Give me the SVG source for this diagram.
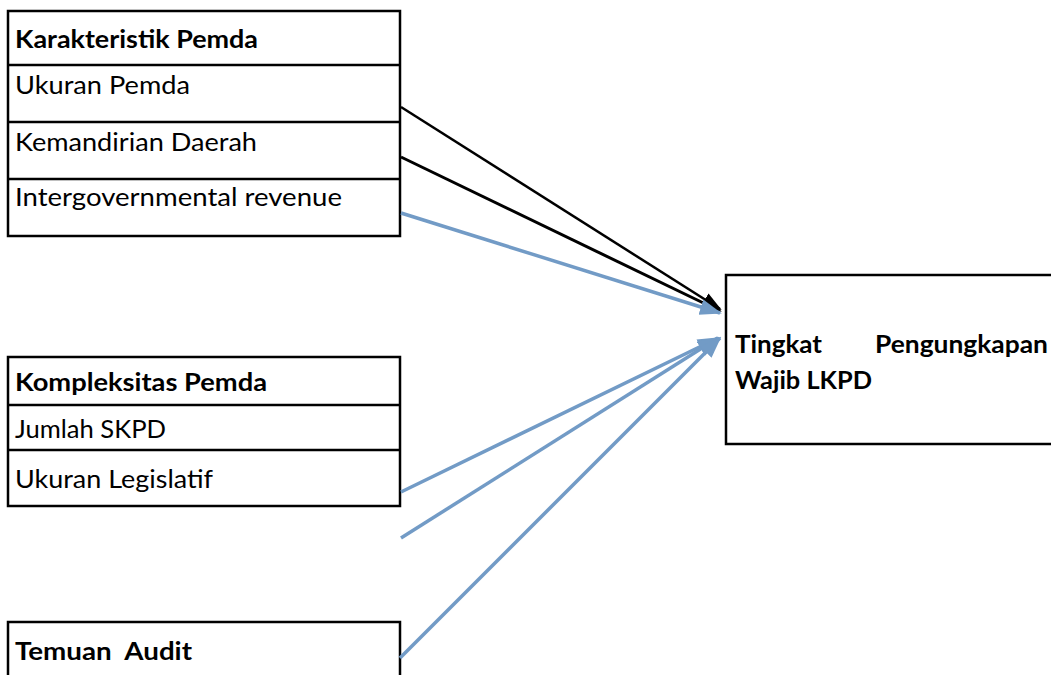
<svg xmlns="http://www.w3.org/2000/svg" width="1051" height="675" viewBox="0 0 1051 675">
<style>
.box{fill:#fff;stroke:#000;stroke-width:2.5}
.sep{stroke:#000;stroke-width:2.5}
.t{font-family:Lato,"Open Sans",sans-serif;font-size:25px;fill:#000}
.b{font-weight:bold}
.blk{stroke:#000;fill:none}
.blu{stroke:#729BC6;stroke-width:3.5;fill:none}
</style>
<defs>
<marker id="ab" markerUnits="userSpaceOnUse" markerWidth="20" markerHeight="16" viewBox="0 0 20 16" refX="18" refY="8" orient="auto">
<path d="M0,1 L20,8 L0,15 z" fill="#000"/>
</marker>
<marker id="au" markerUnits="userSpaceOnUse" markerWidth="22" markerHeight="18" viewBox="0 0 22 18" refX="20" refY="9" orient="auto">
<path d="M0,1 L22,9 L0,17 z" fill="#729BC6"/>
</marker>
</defs>
<g id="karakteristik">
<rect class="box" x="8" y="11" width="392" height="225"/>
<line class="sep" x1="8" y1="65" x2="400" y2="65"/>
<line class="sep" x1="8" y1="122" x2="400" y2="122"/>
<line class="sep" x1="8" y1="179" x2="400" y2="179"/>
<text class="t b" x="15" y="48" textLength="243" lengthAdjust="spacingAndGlyphs">Karakteristik Pemda</text>
<text class="t" x="15" y="94" textLength="175" lengthAdjust="spacingAndGlyphs">Ukuran Pemda</text>
<text class="t" x="15" y="151" textLength="242" lengthAdjust="spacingAndGlyphs">Kemandirian Daerah</text>
<text class="t" x="15" y="206" textLength="327" lengthAdjust="spacingAndGlyphs">Intergovernmental revenue</text>
</g>
<g id="kompleksitas">
<rect class="box" x="8" y="357" width="392" height="149"/>
<line class="sep" x1="8" y1="405" x2="400" y2="405"/>
<line class="sep" x1="8" y1="450" x2="400" y2="450"/>
<text class="t b" x="15" y="391" textLength="252" lengthAdjust="spacingAndGlyphs">Kompleksitas Pemda</text>
<text class="t" x="15" y="438" textLength="151" lengthAdjust="spacingAndGlyphs">Jumlah SKPD</text>
<text class="t" x="15" y="488" textLength="198" lengthAdjust="spacingAndGlyphs">Ukuran Legislatif</text>
</g>
<g id="temuan">
<rect class="box" x="8" y="622" width="392" height="70"/>
<text class="t b" x="15" y="660" textLength="177" lengthAdjust="spacingAndGlyphs" xml:space="preserve">Temuan  Audit</text>
</g>
<g id="tingkat">
<rect class="box" x="726" y="275" width="340" height="169"/>
<text class="t b" x="735" y="353" textLength="87" lengthAdjust="spacingAndGlyphs">Tingkat</text>
<text class="t b" x="875" y="353" textLength="173" lengthAdjust="spacingAndGlyphs">Pengungkapan</text>
<text class="t b" x="735" y="389" textLength="137" lengthAdjust="spacingAndGlyphs">Wajib LKPD</text>
</g>
<g id="connectors">
<line class="blk" stroke-width="2.5" x1="401" y1="107" x2="720" y2="309" marker-end="url(#ab)"/>
<line class="blk" stroke-width="3" x1="401" y1="157" x2="720" y2="311" marker-end="url(#ab)"/>
<line class="blu" x1="401" y1="213" x2="720" y2="313" marker-end="url(#au)"/>
<line class="blu" x1="401" y1="492" x2="718" y2="338" marker-end="url(#au)"/>
<line class="blu" x1="401" y1="538" x2="718" y2="338" marker-end="url(#au)"/>
<line class="blu" stroke-width="3" x1="400" y1="658" x2="720" y2="338" marker-end="url(#au)"/>
</g>
</svg>
